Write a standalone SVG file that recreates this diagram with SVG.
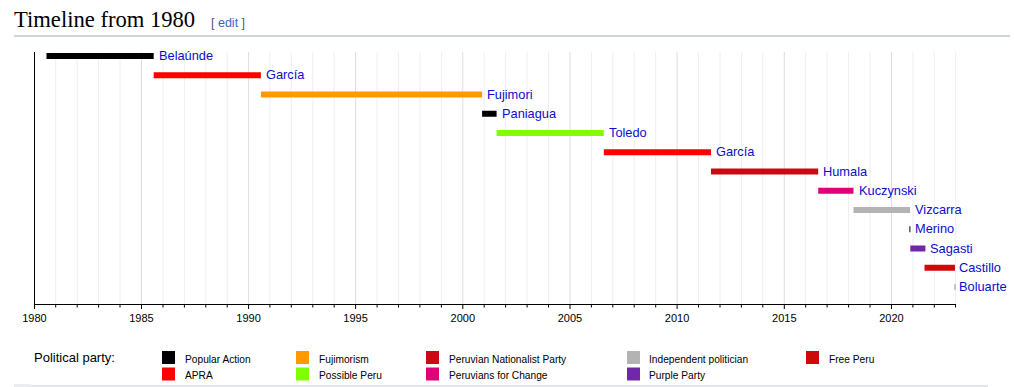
<svg xmlns="http://www.w3.org/2000/svg" width="1014" height="387" viewBox="0 0 1014 387">
<style>
.title{font-family:"Liberation Serif",serif;font-size:22.6px;fill:#000}
.edit{font-family:"Liberation Sans",Arial,sans-serif;font-size:12.5px}
.grid{stroke:#eeeeee;stroke-width:1}
.grid5{stroke:#dddddd;stroke-width:1}
.ax{stroke:#000;stroke-width:1;fill:none}
.yr{font-family:"Liberation Sans",Arial,sans-serif;font-size:11px;fill:#000;text-anchor:middle}
.lbl{font-family:"Liberation Sans",Arial,sans-serif;font-size:12.8px;fill:#0c0ccc}
.leg{font-family:"Liberation Sans",Arial,sans-serif;font-size:10.2px;fill:#000}
.legh{font-family:"Liberation Sans",Arial,sans-serif;font-size:13px;fill:#000}
</style>
<rect width="1014" height="387" fill="#fff"/>
<g id="heading">
<text class="title" x="14" y="27">Timeline from 1980</text>
<text class="edit" x="211" y="27"><tspan fill="#54595d">[ </tspan><tspan fill="#3366cc">edit</tspan><tspan fill="#54595d"> ]</tspan></text>
<rect x="14" y="35.5" width="996" height="1" fill="#a2a9b1"/>
</g>
<g id="grid">
<path class="grid" d="M55.7 52V304M77.2 52V304M98.6 52V304M120.0 52V304M163.0 52V304M184.4 52V304M205.8 52V304M227.2 52V304M269.9 52V304M291.3 52V304M312.8 52V304M334.2 52V304M377.1 52V304M398.5 52V304M419.9 52V304M441.4 52V304M484.2 52V304M505.6 52V304M527.1 52V304M548.5 52V304M591.4 52V304M612.8 52V304M634.2 52V304M655.7 52V304M698.5 52V304M720.0 52V304M741.4 52V304M762.8 52V304M805.7 52V304M827.1 52V304M848.6 52V304M870.0 52V304M912.9 52V304M934.3 52V304M955.7 52V304"/>
<path class="grid5" d="M141.5 52V304M248.6 52V304M355.6 52V304M462.8 52V304M570.0 52V304M677.1 52V304M784.3 52V304M891.5 52V304"/>
</g>
<g id="axis">
<path class="ax" d="M34.5 52V304.5H956"/>
<path class="ax" d="M34.5 304V309M141.5 304V309M248.6 304V309M355.6 304V309M462.8 304V309M570.0 304V309M677.1 304V309M784.3 304V309M891.5 304V309"/>
<path class="ax" d="M55.7 304V307.5M77.2 304V307.5M98.6 304V307.5M120.0 304V307.5M163.0 304V307.5M184.4 304V307.5M205.8 304V307.5M227.2 304V307.5M269.9 304V307.5M291.3 304V307.5M312.8 304V307.5M334.2 304V307.5M377.1 304V307.5M398.5 304V307.5M419.9 304V307.5M441.4 304V307.5M484.2 304V307.5M505.6 304V307.5M527.1 304V307.5M548.5 304V307.5M591.4 304V307.5M612.8 304V307.5M634.2 304V307.5M655.7 304V307.5M698.5 304V307.5M720.0 304V307.5M741.4 304V307.5M762.8 304V307.5M805.7 304V307.5M827.1 304V307.5M848.6 304V307.5M870.0 304V307.5M912.9 304V307.5M934.3 304V307.5M955.5 304V307.5"/>
<text class="yr" x="34.5" y="322">1980</text>
<text class="yr" x="141.5" y="322">1985</text>
<text class="yr" x="248.6" y="322">1990</text>
<text class="yr" x="355.6" y="322">1995</text>
<text class="yr" x="462.8" y="322">2000</text>
<text class="yr" x="570.0" y="322">2005</text>
<text class="yr" x="677.1" y="322">2010</text>
<text class="yr" x="784.3" y="322">2015</text>
<text class="yr" x="891.5" y="322">2020</text>
</g>
<g id="connectors"></g>
<g id="belaunde"><rect x="46.5" y="53" width="107.2" height="6" fill="#000"/><text class="lbl" x="159" y="60">Belaúnde</text></g>
<g id="garcia1"><rect x="153.7" y="72.25" width="107.2" height="6" fill="#ff0000"/><text class="lbl" x="266" y="79.25">García</text></g>
<g id="fujimori"><rect x="260.9" y="91.5" width="221.2" height="6" fill="#ff9900"/><text class="lbl" x="487" y="98.5">Fujimori</text></g>
<g id="paniagua"><rect x="482.1" y="110.75" width="14.5" height="6" fill="#000"/><text class="lbl" x="502" y="117.75">Paniagua</text></g>
<g id="toledo"><rect x="496.6" y="130" width="107.2" height="6" fill="#80ff00"/><text class="lbl" x="609" y="137">Toledo</text></g>
<g id="garcia2"><rect x="603.8" y="149.25" width="107.2" height="6" fill="#ff0000"/><text class="lbl" x="716" y="156.25">García</text></g>
<g id="humala"><rect x="711" y="168.5" width="107.2" height="6" fill="#c80a14"/><text class="lbl" x="823" y="175.5">Humala</text></g>
<g id="kuczynski"><rect x="818.2" y="187.75" width="35.3" height="6" fill="#e0007a"/><text class="lbl" x="859" y="194.75">Kuczynski</text></g>
<g id="vizcarra"><rect x="853.5" y="207" width="56.6" height="6" fill="#b3b3b3"/><text class="lbl" x="915" y="214">Vizcarra</text></g>
<g id="merino"><rect x="909.4" y="226.25" width="1" height="6" fill="#000"/><text class="lbl" x="915" y="233.25">Merino</text></g>
<g id="sagasti"><rect x="910.3" y="245.5" width="15.1" height="6" fill="#7027a8"/><text class="lbl" x="930" y="252.5">Sagasti</text></g>
<g id="castillo"><rect x="924.5" y="264.75" width="30.5" height="6" fill="#cc0a0a"/><text class="lbl" x="959" y="271.75">Castillo</text></g>
<g id="boluarte"><rect x="954.3" y="284" width="1.4" height="6" fill="#b3b3b3"/><text class="lbl" x="959" y="291">Boluarte</text></g>
<g id="legend">
<text class="legh" x="34" y="362">Political party:</text>
<rect x="162" y="351" width="13" height="13" fill="#000"/><text class="leg" x="185" y="362.5">Popular Action</text>
<rect x="162" y="367.5" width="13" height="13" fill="#ff0000"/><text class="leg" x="185" y="379">APRA</text>
<rect x="296" y="351" width="13" height="13" fill="#ff9900"/><text class="leg" x="319" y="362.5">Fujimorism</text>
<rect x="296" y="367.5" width="13" height="13" fill="#80ff00"/><text class="leg" x="319" y="379">Possible Peru</text>
<rect x="426" y="351" width="13" height="13" fill="#c80a14"/><text class="leg" x="449" y="362.5">Peruvian Nationalist Party</text>
<rect x="426" y="367.5" width="13" height="13" fill="#e0007a"/><text class="leg" x="449" y="379">Peruvians for Change</text>
<rect x="627" y="351" width="13" height="13" fill="#b3b3b3"/><text class="leg" x="649" y="362.5">Independent politician</text>
<rect x="627" y="367.5" width="13" height="13" fill="#7027a8"/><text class="leg" x="649" y="379">Purple Party</text>
<rect x="806" y="351" width="13" height="13" fill="#cc0a0a"/><text class="leg" x="829" y="362.5">Free Peru</text>
</g>
<g id="footer">
<rect x="14" y="384" width="17" height="3" fill="#eaecf0"/>
<rect x="31" y="385.5" width="957" height="1" fill="#c8ccd1"/>
</g>
</svg>
